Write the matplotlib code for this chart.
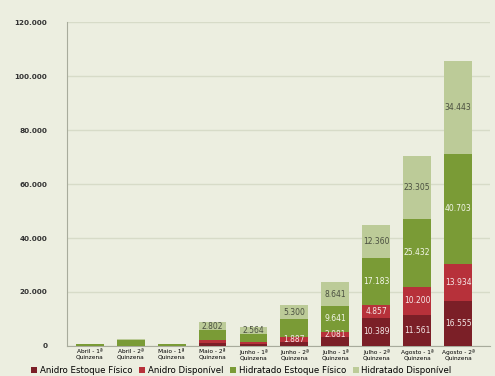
import numpy as np
import matplotlib
matplotlib.use("Agg")
import matplotlib.pyplot as plt
from matplotlib.ticker import FuncFormatter

# dados (m3)
quinzenas = ["Abril - 1ª\nQuinzena", "Abril - 2ª\nQuinzena", "Maio - 1ª\nQuinzena",
             "Maio - 2ª\nQuinzena", "Junho - 1ª\nQuinzena", "Junho - 2ª\nQuinzena",
             "Julho - 1ª\nQuinzena", "Julho - 2ª\nQuinzena", "Agosto - 1ª\nQuinzena",
             "Agosto - 2ª\nQuinzena"]
anidro_estoque = [0, 0, 0, 1000, 700, 1500, 3200, 10389, 11561, 16555]
anidro_disp = [0, 0, 0, 1200, 700, 1887, 2081, 4857, 10200, 13934]
hidratado_estoque = [600, 2300, 600, 3700, 3000, 6500, 9641, 17183, 25432, 40703]
hidratado_disp = [200, 400, 200, 2802, 2564, 5300, 8641, 12360, 23305, 34443]

# quais valores aparecem escritos no grafico
rot_anidro_estoque = [0, 0, 0, 0, 0, 0, 0, 1, 1, 1]
rot_anidro_disp = [0, 0, 0, 0, 0, 1, 1, 1, 1, 1]
rot_hidratado_estoque = [0, 0, 0, 0, 0, 0, 1, 1, 1, 1]
rot_hidratado_disp = [0, 0, 0, 1, 1, 1, 1, 1, 1, 1]

series = [
    ("Anidro Estoque Físico", anidro_estoque, rot_anidro_estoque, "#7b1f27", "#f3e6e6"),
    ("Anidro Disponível", anidro_disp, rot_anidro_disp, "#b7313a", "#f5e8e8"),
    ("Hidratado Estoque Físico", hidratado_estoque, rot_hidratado_estoque, "#7a9b36", "#f4f7ea"),
    ("Hidratado Disponível", hidratado_disp, rot_hidratado_disp, "#bccb98", "#4a4f40"),
]


def milhar(v, pos):
    return "{:,.0f}".format(v).replace(",", ".")


fundo = "#eceee0"
fig = plt.figure(figsize=(4.95, 3.76), dpi=100, facecolor=fundo)
ax = fig.add_axes([0.135, 0.080, 0.855, 0.861], facecolor=fundo)

x = np.arange(len(quinzenas))
base = np.zeros(len(quinzenas))
for nome, vals, rots, cor, cor_txt in series:
    vals = np.array(vals, dtype=float)
    barras = ax.bar(x, vals, width=0.68, bottom=base, color=cor, label=nome,
                    edgecolor="none", zorder=3)
    for b, v, r in zip(barras, vals, rots):
        if r:
            ax.text(b.get_x() + b.get_width() / 2, b.get_y() + v / 2, milhar(v, None),
                    ha="center", va="center", fontsize=5.5, color=cor_txt, zorder=4)
    base += vals

ax.set_xlim(-0.56, 9.78)
ax.set_ylim(0, 120000)
ax.set_yticks(np.arange(0, 120001, 20000))
ax.yaxis.set_major_formatter(FuncFormatter(milhar))
ax.set_xticks(x)
ax.set_xticklabels(quinzenas, fontsize=4.2, linespacing=1.1)
ax.tick_params(axis="y", labelsize=5.2, length=0, pad=14)
ax.tick_params(axis="x", length=0, pad=2)
for lbl in ax.get_yticklabels():
    lbl.set_fontweight("bold")
    lbl.set_color("#333333")

ax.grid(axis="y", color="#d7dbc8", linewidth=1.0, zorder=0)
for s in ["top", "right"]:
    ax.spines[s].set_visible(False)
ax.spines["left"].set_color("#a8ab9c")
ax.spines["bottom"].set_color("#a8ab9c")

fig.legend(loc="lower left", bbox_to_anchor=(0.06, 0.0), ncol=4, frameon=False,
           fontsize=6.2, handlelength=0.7, handleheight=0.7, handletextpad=0.3,
           columnspacing=0.8, borderaxespad=0, borderpad=0.15)

fig.savefig("out.png", dpi=100, facecolor=fundo)
